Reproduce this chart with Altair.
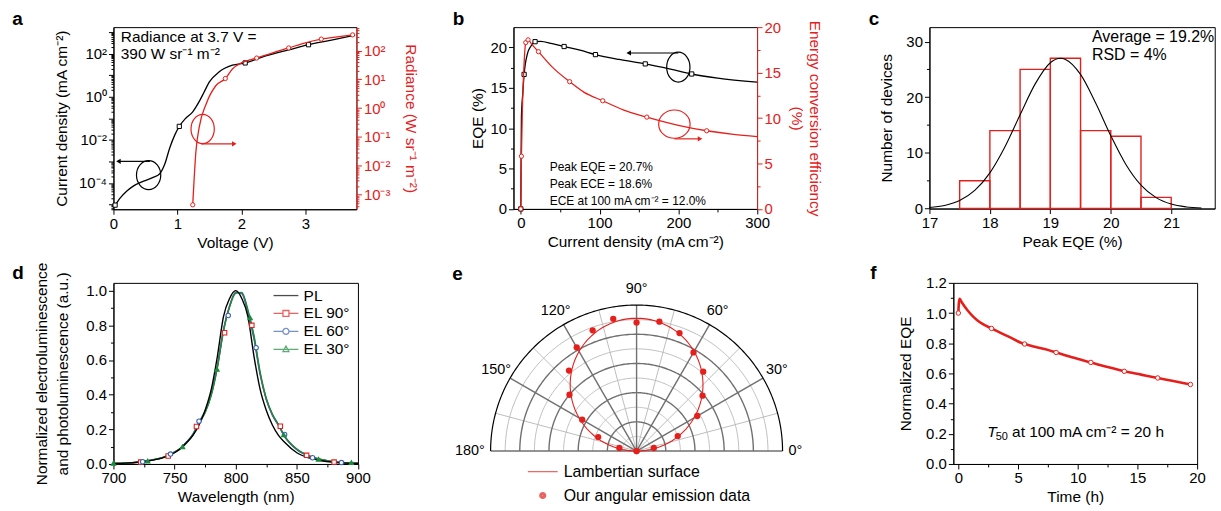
import json
import altair as alt
import pandas as pd

FONT = "Liberation Sans"
RED = "#e5201c"
BLUE = "#3d63b6"
GREEN = "#1e8a3e"
DARK = "#707070"
LIGHT = "#bdbdbd"
FS = 15

# ---------------- data: panel a ----------------
A_J_V = [0.0, 0.026, 0.10, 0.21, 0.31, 0.47, 0.62, 0.72, 0.80, 0.88, 0.96, 1.03, 1.13, 1.24,
         1.34, 1.42, 1.50, 1.65, 1.86, 2.06, 2.38, 2.74, 3.05, 3.41, 3.78]
A_J = [7.6e-6, 9.3e-6, 1.9e-5, 4.2e-5, 7.1e-5, 1.2e-4, 1.8e-4, 2.6e-4, 7.1e-4, 4.2e-3, 1.7e-2,
       4.2e-2, 0.10, 0.20, 0.59, 1.7, 4.9, 14, 29, 37, 78, 150, 260, 420, 720]
A_JM_V = [0.026, 1.03, 2.06, 3.05]
A_JM = [9.3e-6, 4.2e-2, 37, 260]
A_R_V = [1.24, 1.29, 1.34, 1.45, 1.60, 1.75, 1.86, 2.02, 2.24, 2.5, 2.74, 3.0, 3.25, 3.5, 3.74]
A_R = [4.4e-4, 0.032, 0.21, 1.4, 6.0, 10.7, 23, 39, 55, 85, 123, 186, 250, 300, 350]
A_RM_V = [1.24, 1.75, 2.24, 2.74, 3.25, 3.74]
A_RM = [4.4e-4, 10.7, 55, 123, 250, 350]
A_TEXT = ["Radiance at 3.7 V =", "390 W sr⁻¹ m⁻²"]
A_TEXT_X = [0.115, 0.115]
A_TEXT_Y = [590, 100]
A_ELL_L = {"x": [0.55], "y": [2.3e-4]}
A_ARR_L = {"x": [0.57], "x2": [0.078], "y": [1e-3]}
A_ELL_R = {"x": [1.395], "y": [0.19]}
A_ARR_R = {"x": [1.37], "x2": [1.89], "y": [0.058]}

# ---------------- data: panel b ----------------
B_EQE_J = [0, 0.3, 0.8, 2.5, 4.2, 8.4, 12.6, 18.1, 25, 40, 55, 75, 95, 125, 158, 190, 217, 250, 300]
B_EQE = [0, 5, 11.4, 14.3, 16.65, 19.2, 20.1, 20.7, 20.75, 20.45, 20.1, 19.65, 19.1, 18.5, 17.95,
         17.3, 16.7, 16.2, 15.7]
B_EQEM_J = [0, 4.2, 18.1, 55, 94.8, 158, 217]
B_EQEM = [0, 16.65, 20.7, 20.1, 19.1, 17.95, 16.7]
B_ECE_J = [0, 0.8, 2, 3.4, 6.3, 9.2, 14, 22.4, 40, 62, 80, 104, 130, 160, 200, 236, 270, 300]
B_ECE = [0, 5.8, 11, 14.5, 18.3, 18.6, 18.1, 17.3, 15.6, 14.0, 12.85, 11.9, 10.9, 10.1, 9.2, 8.6,
         8.2, 7.95]
B_ECEM_J = [0, 0.8, 6.3, 9.2, 22.4, 62, 104, 160, 236]
B_ECEM = [0, 5.8, 18.3, 18.6, 17.3, 14.0, 11.9, 10.1, 8.6]
B_TEXT = ["Peak EQE = 20.7%", "Peak ECE = 18.6%", "ECE at 100 mA cm⁻² = 12.0%"]
B_TEXT_X = [36.7, 36.7, 36.7]
B_TEXT_Y = [5.13, 3.08, 1.03]
B_ELL_L = {"x": [200], "y": [17.55]}
B_ARR_L = {"x": [200], "x2": [137], "y": [19.3]}
B_ELL_R = {"x": [195], "y": [9.33]}
B_ARR_R = {"x": [195], "x2": [227.6], "y": [7.71]}

# ---------------- data: panel c ----------------
C_BIN_START = [17.5, 18.0, 18.5, 19.0, 19.5, 20.0, 20.5]
C_BIN_END = [18.0, 18.5, 19.0, 19.5, 20.0, 20.5, 21.0]
C_COUNT = [5, 14, 25, 27, 14, 13, 2]
C_FIT_X = [17.0, 17.25, 17.5, 17.75, 18.0, 18.25, 18.5, 18.75, 19.0, 19.17, 19.25, 19.5, 19.75,
           20.0, 20.25, 20.5, 20.75, 21.0, 21.25, 21.5]
C_FIT_Y = [0.19, 0.56, 1.44, 3.25, 6.41, 11.1, 16.85, 22.4, 26.2, 27.0, 26.8, 24.1, 18.96, 13.1,
           7.93, 4.21, 1.96, 0.80, 0.29, 0.09]
C_TEXT = ["Average = 19.2%", "RSD = 4%"]
C_TEXT_X = [19.69, 19.69]
C_TEXT_Y = [30.8, 27.6]

# ---------------- data: panel d ----------------
D_WL = [700, 710, 720, 730, 740, 750, 755, 760, 765, 770, 775, 780, 785, 790, 795, 800, 805, 810,
        815, 820, 825, 830, 835, 840, 850, 860, 870, 880, 890, 900]
D_PL = [0.003, 0.005, 0.01, 0.019, 0.035, 0.065, 0.09, 0.125, 0.165, 0.225, 0.31, 0.43, 0.62,
        0.85, 0.955, 1.0, 0.955, 0.85, 0.62, 0.43, 0.31, 0.225, 0.165, 0.125, 0.065, 0.035, 0.019,
        0.01, 0.005, 0.003]
D_EL90 = [0.003, 0.005, 0.01, 0.021, 0.036, 0.068, 0.09, 0.125, 0.17, 0.24, 0.30, 0.40, 0.56,
          0.77, 0.91, 0.99, 0.985, 0.88, 0.73, 0.52, 0.375, 0.285, 0.225, 0.16, 0.085, 0.046,
          0.026, 0.013, 0.007, 0.004]
D_EL60 = [0.003, 0.005, 0.011, 0.022, 0.037, 0.07, 0.092, 0.128, 0.172, 0.243, 0.305, 0.405,
          0.565, 0.775, 0.912, 0.99, 0.983, 0.875, 0.72, 0.515, 0.372, 0.282, 0.222, 0.158, 0.083,
          0.045, 0.025, 0.012, 0.007, 0.004]
D_EL30 = [0.004, 0.006, 0.011, 0.021, 0.036, 0.067, 0.089, 0.123, 0.167, 0.236, 0.296, 0.395,
          0.555, 0.765, 0.905, 0.985, 0.99, 0.89, 0.74, 0.53, 0.38, 0.288, 0.228, 0.162, 0.086,
          0.047, 0.026, 0.013, 0.008, 0.004]
D_M90_X = [722.3, 744.8, 767.9, 790.9, 813.2, 836.5, 858.0, 880.5]
D_M90_Y = [0.011, 0.046, 0.216, 0.757, 0.80, 0.218, 0.05, 0.011]
D_M60_X = [723.9, 746.7, 770.0, 793.9, 816.7, 840.0, 862.9, 886.5]
D_M60_Y = [0.013, 0.057, 0.247, 0.857, 0.671, 0.17, 0.036, 0.008]
D_M30_X = [700.0, 728.0, 756.5, 784.7, 811.8, 839.3, 867.8, 894.6]
D_M30_Y = [0.004, 0.017, 0.10, 0.547, 0.843, 0.168, 0.027, 0.008]
D_SERIES = ["PL", "EL 90°", "EL 60°", "EL 30°"]

# ---------------- data: panel e ----------------
E_ANG = [0, 10, 20, 30, 40, 50, 60, 70, 80, 90, 100, 110, 120, 130, 140, 150, 160, 170, 180]
E_R = [0, 0.12, 0.30, 0.48, 0.59, 0.71, 0.78, 0.86, 0.90, 0.88, 0.92, 0.88, 0.82, 0.72, 0.60,
       0.43, 0.28, 0.12, 0]
LAMBERT_PEAK = 0.91
RING_R = [0.1, 0.2, 0.3, 0.4, 0.5, 0.6, 0.7, 0.8, 0.9, 1.0]
RING_SHADE = ["light", "dark", "light", "dark", "light", "dark", "light", "dark", "light", "outer"]
SPOKE_ANG = [0, 15, 30, 45, 60, 75, 90, 105, 120, 135, 150, 165, 180]
SPOKE_SHADE = ["dark", "light", "dark", "light", "dark", "light", "dark", "light", "dark", "light",
               "dark", "light", "dark"]
E_LABEL_ANG = [0, 30, 60, 90, 120, 150, 180]
E_LEG = ["Lambertian surface", "Our angular emission data"]

# ---------------- data: panel f ----------------
F_T = [0, 0.05, 0.11, 0.3, 0.75, 1.2, 1.58, 2.1, 2.78, 3.5, 4.3, 5.19, 5.55, 6.5, 7.3, 8.19, 9.6,
       11.1, 12.5, 13.9, 15.3, 16.7, 18.0, 19.44]
F_V = [1.0, 1.07, 1.095, 1.07, 1.02, 0.98, 0.953, 0.925, 0.898, 0.87, 0.84, 0.805, 0.795, 0.775,
       0.76, 0.739, 0.705, 0.673, 0.642, 0.614, 0.592, 0.57, 0.55, 0.527]
F_MT = [0, 2.78, 5.55, 8.19, 11.1, 13.9, 16.7, 19.44]
F_MV = [1.0, 0.898, 0.795, 0.739, 0.673, 0.614, 0.57, 0.527]

# ---------------- helpers ----------------
SUP = str.maketrans("-0123456789", "⁻⁰¹²³⁴⁵⁶⁷⁸⁹")


def df(**cols):
    return pd.DataFrame(cols)


def axis_lin(title, major, minor, fmt, orient=None, color="black", **extra):
    vals = sorted(major + minor)
    test = "indexof(%s, datum.value) >= 0" % json.dumps(major)
    kw = dict(title=title, values=vals, format=fmt,
              labelExpr=test + " ? datum.label : ''",
              tickSize={"condition": {"test": test, "value": 5}, "value": 3})
    if orient:
        kw["orient"] = orient
    if color != "black":
        kw.update(domainColor=color, tickColor=color, labelColor=color, titleColor=color)
    kw.update(extra)
    return alt.Axis(**kw)


def axis_log(title, lo, hi, labeled, dmin, dmax, orient=None, color="black", **extra):
    decades = [10.0 ** e for e in range(lo, hi + 1)]
    minors = [k * 10.0 ** e for e in range(lo - 1, hi + 1) for k in range(2, 10)
              if dmin <= k * 10.0 ** e <= dmax]
    vals = sorted(decades + minors)
    test = "indexof(%s, datum.value) >= 0" % json.dumps(decades)
    lab = " : ".join("datum.value == %s ? '10%s'" % (json.dumps(10.0 ** e), str(e).translate(SUP))
                     for e in labeled) + " : ''"
    kw = dict(title=title, values=vals, labelExpr=lab,
              tickSize={"condition": {"test": test, "value": 5}, "value": 2.5})
    if orient:
        kw["orient"] = orient
    if color != "black":
        kw.update(domainColor=color, tickColor=color, labelColor=color, titleColor=color)
    kw.update(extra)
    return alt.Axis(**kw)


def ellipse(rx, ry):
    m = max(rx, ry)
    a, b = rx / m, ry / m
    path = f"M0,{-b}A{a},{b} 0 1,1 0,{b}A{a},{b} 0 1,1 0,{-b}Z"
    return path, (2 * m) ** 2


def circ(q):
    return f"M{-q},0A{q},{q} 0 1,1 {q},0A{q},{q} 0 1,1 {-q},0Z"


def spacer(L, W, R, T, H, B):
    return alt.Chart(df(s=[0])).mark_rule(strokeOpacity=0, strokeWidth=0.01).encode(
        x=alt.value(-L), x2=alt.value(W + R), y=alt.value(-T), y2=alt.value(H + B))


def letter(ch, x, y):
    return alt.Chart(df(t=[ch])).mark_text(
        align="left", baseline="alphabetic", fontSize=19, fontWeight="bold", font=FONT
    ).encode(text="t:N", x=alt.value(x), y=alt.value(y))


def annot(ell, arr, rx, ry, color, x, y, head):
    path, size = ellipse(rx, ry)
    e = alt.Chart(pd.DataFrame(ell)).mark_point(shape=path, size=size, filled=False,
                                                 stroke=color, strokeWidth=1.2, opacity=1).encode(x=x, y=y)
    r = alt.Chart(pd.DataFrame(arr)).mark_rule(color=color, strokeWidth=1.2).encode(
        x=x, x2="x2:Q", y=y)
    hd = alt.Chart(pd.DataFrame({"x": arr["x2"], "y": arr["y"]})).mark_point(
        shape=head, filled=True, color=color, size=28, opacity=1).encode(x=x, y=y)
    return [e, r, hd]


# Row geometry: every panel of a row shares the same top margin T so that the
# plot tops line up; row 1 is 250 px tall, row 2 is 261 px tall.
T1, T2 = 25, 30

# ---------------- panel a ----------------
AW, AH = 244.2, 183
xa = alt.X("x:Q", scale=alt.Scale(domain=[0, 3.8], nice=False, zero=False),
           axis=axis_lin("Voltage (V)", [0, 1, 2, 3], [0.5, 1.5, 2.5, 3.5], "d"))
ya_l = alt.Y("y:Q", scale=alt.Scale(type="log", domain=[6e-6, 1.7e3], nice=False),
             axis=axis_log("Current density (mA cm⁻²)", -5, 3, [-4, -2, 0, 2], 6e-6, 1.7e3,
                           titlePadding=9))
ya_r = alt.Y("y:Q", scale=alt.Scale(type="log", domain=[3.1e-4, 650], nice=False),
             axis=axis_log("Radiance (W sr⁻¹ m⁻²)", -3, 2, [-3, -2, -1, 0, 1, 2], 3.1e-4, 650,
                           orient="right", color=RED, titlePadding=13))

a_left = alt.layer(
    alt.Chart(df(x=A_J_V, y=A_J)).mark_line(color="black", strokeWidth=1.3, interpolate="monotone").encode(x=xa, y=ya_l),
    alt.Chart(df(x=A_JM_V, y=A_JM)).mark_point(shape="square", size=18, stroke="black", fill="white",
                                               strokeWidth=1, opacity=1).encode(x=xa, y=ya_l),
    *annot(A_ELL_L, A_ARR_L, 12.2, 14.5, "black", xa, ya_l, "triangle-left"),
    alt.Chart(df(x=A_TEXT_X, y=A_TEXT_Y, t=A_TEXT)).mark_text(align="left", baseline="middle",
                                                             fontSize=15.5).encode(x=xa, y=ya_l, text="t:N"),
    letter("a", -101.6, -1.7),
    spacer(113.3, AW, 82.5, T1, AH, 250 - T1 - AH),
)
a_right = alt.layer(
    alt.Chart(df(x=A_R_V, y=A_R)).mark_line(color=RED, strokeWidth=1.3, interpolate="monotone").encode(x=xa, y=ya_r),
    alt.Chart(df(x=A_RM_V, y=A_RM)).mark_point(shape="circle", size=18, stroke=RED, fill="white",
                                               strokeWidth=1, opacity=1).encode(x=xa, y=ya_r),
    *annot(A_ELL_R, A_ARR_R, 11.7, 14.7, RED, xa, ya_r, "triangle-right"),
)
panel_a = alt.layer(a_left, a_right).resolve_scale(y="independent").properties(width=AW, height=AH)

# ---------------- panel b ----------------
BW, BH = 244.8, 182.7
xb = alt.X("x:Q", scale=alt.Scale(domain=[-9.3, 300], nice=False, zero=False),
           axis=axis_lin("Current density (mA cm⁻²)", [0, 100, 200, 300], [50, 150, 250], "d"))
yb_l = alt.Y("y:Q", scale=alt.Scale(domain=[0, 22.5], nice=False),
             axis=axis_lin("EQE (%)", [0, 5, 10, 15, 20], [2.5, 7.5, 12.5, 17.5], "d"))
yb_r = alt.Y("y:Q", scale=alt.Scale(domain=[0, 20], nice=False),
             axis=axis_lin(["Energy conversion efficiency", "(%)"], [0, 5, 10, 15, 20],
                           [2.5, 7.5, 12.5, 17.5], "d", orient="right", color=RED,
                           titleLineHeight=18, titlePadding=8))
b_left = alt.layer(
    alt.Chart(df(x=B_EQE_J, y=B_EQE)).mark_line(color="black", strokeWidth=1.3, interpolate="monotone").encode(x=xb, y=yb_l),
    alt.Chart(df(x=B_EQEM_J, y=B_EQEM)).mark_point(shape="square", size=18, stroke="black", fill="white",
                                                   strokeWidth=1, opacity=1).encode(x=xb, y=yb_l),
    *annot(B_ELL_L, B_ARR_L, 11.7, 15, "black", xb, yb_l, "triangle-left"),
    alt.Chart(df(x=B_TEXT_X, y=B_TEXT_Y, t=B_TEXT)).mark_text(align="left", baseline="middle",
                                                             fontSize=12).encode(x=xb, y=yb_l, text="t:N"),
    letter("b", -61, -1.7),
    spacer(72.7, BW, 92.5, T1, BH, 250 - T1 - BH),
)
b_right = alt.layer(
    alt.Chart(df(x=B_ECE_J, y=B_ECE)).mark_line(color=RED, strokeWidth=1.3, interpolate="monotone").encode(x=xb, y=yb_r),
    alt.Chart(df(x=B_ECEM_J, y=B_ECEM)).mark_point(shape="circle", size=18, stroke=RED, fill="white",
                                                   strokeWidth=1, opacity=1).encode(x=xb, y=yb_r),
    *annot(B_ELL_R, B_ARR_R, 15.8, 14.2, RED, xb, yb_r, "triangle-right"),
)
panel_b = alt.layer(b_left, b_right).resolve_scale(y="independent").properties(width=BW, height=BH)

# ---------------- panel c ----------------
CW, CH = 286.7, 182.3
xc = alt.X("x:Q", scale=alt.Scale(domain=[17, 21.72], nice=False, zero=False),
           axis=axis_lin("Peak EQE (%)", [17, 18, 19, 20, 21], [17.5, 18.5, 19.5, 20.5, 21.5], "d"))
yc = alt.Y("y:Q", scale=alt.Scale(domain=[0, 32.6], nice=False),
           axis=axis_lin("Number of devices", [0, 10, 20, 30], [5, 15, 25], "d", titlePadding=11))
panel_c = alt.layer(
    alt.Chart(df(x=C_BIN_START, x2=C_BIN_END, y=C_COUNT)).mark_rect(
        fill="white", fillOpacity=0, stroke=RED, strokeWidth=1.4).encode(
        x=xc, x2="x2:Q", y=yc, y2=alt.datum(0)),
    alt.Chart(df(x=C_FIT_X, y=C_FIT_Y)).mark_line(color="black", strokeWidth=1.1,
                                                 interpolate="monotone").encode(x=xc, y=yc),
    alt.Chart(df(x=C_TEXT_X, y=C_TEXT_Y, t=C_TEXT)).mark_text(align="left", baseline="middle",
                                                             fontSize=16).encode(x=xc, y=yc, text="t:N"),
    letter("c", -61, -1.7),
    spacer(79.3, CW, 5, T1, CH, 250 - T1 - CH),
).properties(width=CW, height=CH)

# ---------------- panel d ----------------
DW, DH = 245.7, 182
xd = alt.X("x:Q", scale=alt.Scale(domain=[700, 900], nice=False, zero=False),
           axis=axis_lin("Wavelength (nm)", [700, 750, 800, 850, 900], [725, 775, 825, 875], "d"))
yd = alt.Y("y:Q", scale=alt.Scale(domain=[0, 1.045], nice=False),
           axis=axis_lin(["Normalized electroluminescence", "and photoluminescence (a.u.)"],
                         [0.0, 0.2, 0.4, 0.6, 0.8, 1.0], [0.1, 0.3, 0.5, 0.7, 0.9], ".1f",
                         titleLineHeight=21, titlePadding=15))
q = 0.48
D_PATHS = [
    "M-2,0L2,0",
    f"M-2,0L{-q},0M{q},0L2,0M{-q},{-q}L{q},{-q}L{q},{q}L{-q},{q}Z",
    f"M-2,0L{-q},0M{q},0L2,0" + circ(q),
    f"M-2,0L2,0M0,{-q * 1.1}L{q},{q * 0.8}L{-q},{q * 0.8}Z",
]
d_leg = alt.Legend(title=None, orient="none", legendX=165.6, legendY=5, symbolSize=156,
                   symbolStrokeWidth=1.3, labelFontSize=15.5, labelFont=FONT, labelOffset=10,
                   rowPadding=1, padding=0)


def d_line(y, color):
    return alt.Chart(df(x=D_WL, y=y)).mark_line(color=color, strokeWidth=1.4,
                                                interpolate="monotone").encode(x=xd, y=yd)


def d_pts(x, y, color, shape, filled):
    return alt.Chart(df(x=x, y=y)).mark_point(shape=shape, size=20, stroke=color,
                                              fill=color if filled else "white",
                                              strokeWidth=1.1, opacity=1).encode(x=xd, y=yd)


panel_d = alt.layer(
    d_line(D_EL90, RED), d_line(D_EL60, BLUE), d_line(D_EL30, GREEN), d_line(D_PL, "black"),
    d_pts(D_M90_X, D_M90_Y, RED, "square", False),
    d_pts(D_M60_X, D_M60_Y, BLUE, "circle", False),
    d_pts(D_M30_X, D_M30_Y, GREEN, "triangle-up", True),
    alt.Chart(pd.DataFrame({"x": [None] * 4, "y": [None] * 4, "s": D_SERIES})).mark_point(
        filled=False, strokeWidth=1.3).encode(
        x=xd, y=yd,
        color=alt.Color("s:N", scale=alt.Scale(domain=D_SERIES, range=["black", RED, BLUE, GREEN]), legend=d_leg),
        shape=alt.Shape("s:N", scale=alt.Scale(domain=D_SERIES, range=D_PATHS), legend=d_leg)),
    letter("d", -101.6, -4),
    spacer(113.3, DW, 81, T2, DH, 261 - T2 - DH),
).properties(width=DW, height=DH)

# ---------------- panel e ----------------
ER = 146.7                # radius of the polar plot in pixels
E_TOP = 1.152             # plot area reaches a bit above the outer ring to line up with d and f
EW, EH = 2 * ER, ER * E_TOP
ex = alt.X("px:Q", scale=alt.Scale(domain=[-1, 1], nice=False, zero=False), axis=None)
ey = alt.Y("py:Q", scale=alt.Scale(domain=[0, E_TOP], nice=False, zero=False), axis=None)
SHADE_STYLE = {"outer": ("black", 1.2), "dark": (DARK, 1.4), "light": (LIGHT, 1.0)}

rings_base = alt.Chart(df(r=RING_R, shade=RING_SHADE)).transform_calculate(
    ang="sequence(0, 181, 1)").transform_flatten(["ang"]).transform_calculate(
    px="datum.r*cos(datum.ang*PI/180)", py="datum.r*sin(datum.ang*PI/180)")
spokes_base = alt.Chart(df(ang=SPOKE_ANG, shade=SPOKE_SHADE)).transform_calculate(
    px="cos(datum.ang*PI/180)", py="sin(datum.ang*PI/180)", z="0")
grid_layers = []
for sh in ["light", "dark", "outer"]:
    col, wid = SHADE_STYLE[sh]
    grid_layers.append(rings_base.transform_filter(f"datum.shade == '{sh}'").mark_line(
        color=col, strokeWidth=wid).encode(x=ex, y=ey, detail="r:N", order="ang:Q"))
    if sh != "outer":
        grid_layers.append(spokes_base.transform_filter(f"datum.shade == '{sh}'").mark_rule(
            color=col, strokeWidth=wid).encode(x=ex, y=ey, x2="z:Q", y2="z:Q"))

lambert = alt.Chart(alt.sequence(0, 181, 2, as_="ang")).transform_calculate(
    r=f"{LAMBERT_PEAK}*sin(datum.ang*PI/180)").transform_calculate(
    px="datum.r*cos(datum.ang*PI/180)", py="datum.r*sin(datum.ang*PI/180)").mark_line(
    color=RED, strokeWidth=1.1).encode(x=ex, y=ey, order="ang:Q")
edots = alt.Chart(df(ang=E_ANG, r=E_R)).transform_calculate(
    px="datum.r*cos(datum.ang*PI/180)", py="datum.r*sin(datum.ang*PI/180)").mark_circle(
    size=40, color=RED, opacity=1).encode(x=ex, y=ey)
lab_base = alt.Chart(df(ang=E_LABEL_ANG)).transform_calculate(t="datum.ang + '°'")
lab_mid = lab_base.transform_filter("datum.ang > 0 && datum.ang < 180").transform_calculate(
    px="1.11*cos(datum.ang*PI/180)", py="1.11*sin(datum.ang*PI/180)").mark_text(
    fontSize=14.5, align="center", baseline="middle").encode(x=ex, y=ey, text="t:N")
lab_0 = lab_base.transform_filter("datum.ang == 0").transform_calculate(
    px="1.04", py="0").mark_text(fontSize=14.5, align="left", baseline="middle").encode(
    x=ex, y=ey, text="t:N")
lab_180 = lab_base.transform_filter("datum.ang == 180").transform_calculate(
    px="-1.04", py="0").mark_text(fontSize=14.5, align="right", baseline="middle").encode(
    x=ex, y=ey, text="t:N")
e_paths = ["M-2,0L2,0", circ(0.4) + circ(0.27) + circ(0.14) + circ(0.03)]
e_leg = alt.Legend(title=None, orient="none", legendX=43.9, legendY=181.2, symbolSize=225,
                   symbolStrokeWidth=1.2, symbolStrokeColor=RED, labelFontSize=16, labelFont=FONT,
                   labelOffset=12.5, rowPadding=7, padding=0, labelLimit=400)
e_dummy = alt.Chart(pd.DataFrame({"px": [None, None], "py": [None, None], "k": E_LEG})).mark_point(
    filled=False, strokeWidth=1.2, color=RED).encode(
    x=ex, y=ey, shape=alt.Shape("k:N", scale=alt.Scale(domain=E_LEG, range=e_paths), legend=e_leg))
panel_e = alt.layer(
    *grid_layers, lambert, edots, lab_mid, lab_0, lab_180, e_dummy,
    letter("e", -38.6, -3.3),
    spacer(50.3, EW, 66.3, T2, EH, 261 - T2 - EH),
).properties(width=EW, height=EH, view=alt.ViewBackground(stroke="transparent"))

# ---------------- panel f ----------------
FW, FH = 245, 182
xf = alt.X("x:Q", scale=alt.Scale(domain=[-0.42, 20], nice=False, zero=False),
           axis=axis_lin("Time (h)", [0, 5, 10, 15, 20], [2.5, 7.5, 12.5, 17.5], "d"))
yf = alt.Y("y:Q", scale=alt.Scale(domain=[0, 1.2], nice=False),
           axis=axis_lin("Normalized EQE", [0.0, 0.2, 0.4, 0.6, 0.8, 1.0, 1.2],
                         [0.1, 0.3, 0.5, 0.7, 0.9, 1.1], ".1f", titlePadding=12))
f_txt = df(x=[2.42], y=[0.21])
panel_f = alt.layer(
    alt.Chart(df(x=F_T, y=F_V)).mark_line(color=RED, strokeWidth=2.6, interpolate="monotone").encode(x=xf, y=yf),
    alt.Chart(df(x=F_MT, y=F_MV)).mark_point(shape="circle", size=20, stroke=RED, fill="white",
                                             strokeWidth=1, opacity=1).encode(x=xf, y=yf),
    alt.Chart(f_txt).mark_text(align="left", baseline="middle", fontSize=15.5, fontStyle="italic",
                               text="T").encode(x=xf, y=yf),
    alt.Chart(f_txt).mark_text(align="left", baseline="middle", fontSize=11, dx=8.5, dy=5,
                               text="50").encode(x=xf, y=yf),
    alt.Chart(f_txt).mark_text(align="left", baseline="middle", fontSize=15.5, dx=25,
                               text="at 100 mA cm⁻² = 20 h").encode(x=xf, y=yf),
    letter("f", -83.4, -4),
    spacer(102.7, FW, 23.3, T2, FH, 261 - T2 - FH),
).properties(width=FW, height=FH)

IND = dict(color="independent", shape="independent", x="independent", y="independent")
row1 = alt.hconcat(panel_a, panel_b, panel_c, spacing=0).resolve_scale(**IND)
row2 = alt.hconcat(panel_d, panel_e, panel_f, spacing=0).resolve_scale(**IND)
chart = alt.vconcat(row1, row2, spacing=0).resolve_scale(**IND).properties(padding=0).configure(
    font=FONT).configure_view(stroke="black", strokeWidth=1).configure_axis(
    labelFont=FONT, titleFont=FONT, labelFontSize=FS, titleFontSize=15.5, titleFontWeight="normal",
    labelColor="black", titleColor="black", domainColor="black", tickColor="black", grid=False,
    labelOverlap=False, labelFlush=False, labelPadding=2, titlePadding=4, tickWidth=1,
    domainWidth=1).configure_legend(labelFont=FONT).configure_text(font=FONT)

chart.save("out.html", embed_options={"renderer": "svg", "actions": False})
